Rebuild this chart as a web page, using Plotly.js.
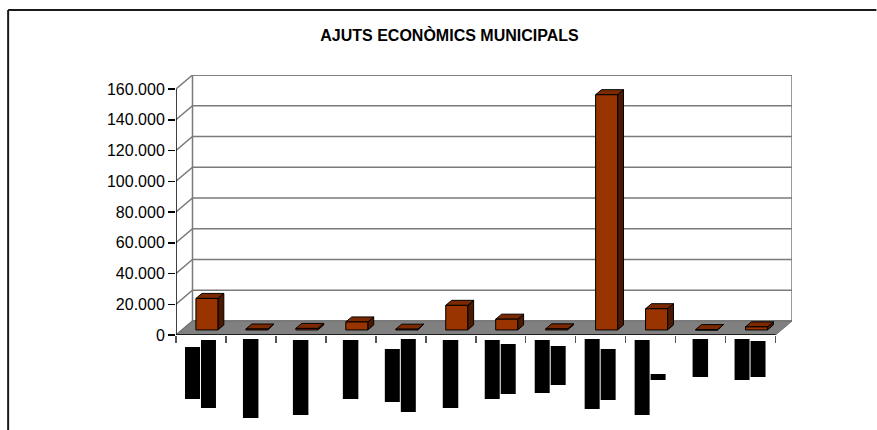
<!DOCTYPE html>
<html><head><meta charset="utf-8">
<script src="https://cdn.plot.ly/plotly-3.0.1.min.js"></script>
<style>html,body{margin:0;padding:0;background:#fff}#chart{width:877px;height:430px}</style>
</head><body><div id="chart"></div>
<script>
// ---- data ----
const categories = ['1','2','3','4','5','6','7','8','9','10','11','12'];
const values = [20500, 600, 1000, 5200, 500, 16000, 7000, 700, 153000, 13800, 200, 2000];
const yTicks = [0, 20000, 40000, 60000, 80000, 100000, 120000, 140000, 160000];
const chartTitle = 'AJUTS ECONÒMICS MUNICIPALS';
// redacted (black) category label blocks: [category index, column, top px, bottom px]
const labelBlocks = [
  [0,'L',347,399],[0,'R',340,408],
  [1,'C',339,418],
  [2,'C',340,415],
  [3,'C',340,399],
  [4,'L',349,402],[4,'R',339,412],
  [5,'C',340,408],
  [6,'L',340,399],[6,'R',344,394],
  [7,'L',340,393],[7,'R',346,385],
  [8,'L',339,409],[8,'R',349,400],
  [9,'L',340,415],[9,'R',374,380],
  [10,'C',339,377],
  [11,'L',339,380],[11,'R',341,377]
];

// ---- geometry ----
const W = 877, H = 430;
const L = 176, B = 335;           // front-left origin in px
const catPx = 50;                 // px per category
const k = 1.5375 / 1000;          // px per value unit
const n = categories.length;
const dX = 16.5 / catPx;          // depth offset (category units)
const dY = 14 / k;                // depth offset (value units)
const f0 = 0.36, f1 = 0.72, bw = 0.44;
const xMin = -0.5, xEnd = n - 0.5;
const yTopTick = yTicks[yTicks.length - 1];
const yMax = yTopTick + dY;
const plotW = (xEnd + dX - xMin) * catPx;
const plotH = yMax * k;
const mT = B - plotH, mL = L, mR = W - L - plotW, mB = H - B;
const px2x = p => (p - L) / plotW;
const py2y = p => (B - p) / plotH;

const traces = [];
const seg = (xs, ys, color, width) => traces.push({
  x: xs, y: ys, mode: 'lines', line: {color: color, width: width},
  hoverinfo: 'skip', showlegend: false
});
const poly = (xs, ys, fill, lineColor, width) => traces.push({
  x: xs, y: ys, mode: 'lines', fill: 'toself', fillcolor: fill,
  line: {color: lineColor, width: width}, hoverinfo: 'skip', showlegend: false
});

// back wall
poly([xMin+dX, xEnd+dX, xEnd+dX, xMin+dX, xMin+dX],
     [dY, dY, yMax, yMax, dY], '#ffffff', '#7a7a7a', 1.5);
// gridlines on back wall + left wall diagonals
{
  const gx = [], gy = [];
  yTicks.forEach(v => {
    gx.push(xMin, xMin+dX, xEnd+dX, null);
    gy.push(v, v+dY, v+dY, null);
  });
  seg(gx, gy, '#7a7a7a', 1.5);
}
// floor
poly([xMin, xEnd, xEnd+dX, xMin+dX, xMin], [0, 0, dY, dY, 0], '#808080', '#707070', 1);

// bars
{
  const fx=[], fy=[], tx=[], ty=[], sx=[], sy=[];
  const ddx = (f1-f0)*dX, ddy = (f1-f0)*dY;
  values.forEach((v, i) => {
    const c = i + f0*dX, yb = f0*dY, yt = yb + v;
    const x0 = c - bw/2, x1 = c + bw/2;
    fx.push(x0, x1, x1, x0, x0, null); fy.push(yb, yb, yt, yt, yb, null);
    tx.push(x0, x1, x1+ddx, x0+ddx, x0, null); ty.push(yt, yt, yt+ddy, yt+ddy, yt, null);
    sx.push(x1, x1+ddx, x1+ddx, x1, x1, null); sy.push(yb, yb+ddy, yt+ddy, yt, yb, null);
  });
  poly(sx, sy, '#4c1900', '#000000', 1);
  poly(tx, ty, '#7a2900', '#000000', 1);
  poly(fx, fy, '#993300', '#000000', 1);
}
// front floor edge and value axis line
seg([xMin, xEnd], [0, 0], '#000000', 1.5);
seg([xMin, xMin], [0, yTopTick], '#000000', 1.5);

// shapes: outer frame and redacted label blocks
const shapes = [
  {type:'line', xref:'paper', yref:'paper', x0:px2x(8), x1:px2x(W), y0:py2y(10), y1:py2y(10), line:{color:'#1a1a1a', width:2}},
  {type:'line', xref:'paper', yref:'paper', x0:px2x(8), x1:px2x(8), y0:py2y(10), y1:py2y(H), line:{color:'#1a1a1a', width:2}}
];
const colOff = {L:[-16,-1], R:[0,15], C:[-8,7.5]};
labelBlocks.forEach(([i, col, t, b]) => {
  const o = colOff[col];
  shapes.push({type:'rect', xref:'x', yref:'paper',
    x0: i + o[0]/catPx, x1: i + o[1]/catPx, y0: py2y(b), y1: py2y(t),
    fillcolor:'#000000', line:{width:0}, layer:'above'});
});

const font = 'Liberation Sans, Arial, sans-serif';
const layout = {
  width: W, height: H,
  margin: {l: mL, r: mR, t: mT, b: mB, pad: 0},
  paper_bgcolor: '#ffffff', plot_bgcolor: 'rgba(0,0,0,0)',
  separators: ',.',
  showlegend: false,
  title: {text: chartTitle, font: {family: font, size: 16, color: '#000', weight: 'bold'},
          xref: 'container', yref: 'container', x: 449.5/W, xanchor: 'center',
          y: 1 - 35/H, yanchor: 'middle'},
  xaxis: {range: [xMin, xEnd + dX], showgrid: false, zeroline: false, showline: false,
          tickmode: 'array', tickvals: Array.from({length: n+1}, (_, j) => j - 0.5),
          ticks: 'outside', ticklen: 7, tickwidth: 1.5, tickcolor: '#555555',
          showticklabels: false, fixedrange: true},
  yaxis: {range: [0, yMax], showgrid: false, zeroline: false, showline: false,
          tickmode: 'array', tickvals: yTicks, tickformat: ',d',
          ticks: 'outside', ticklen: 7, tickwidth: 1.5, tickcolor: '#000000',
          tickfont: {family: font, size: 16, color: '#000'}, fixedrange: true},
  shapes: shapes
};
Plotly.newPlot('chart', traces, layout, {staticPlot: true, displayModeBar: false});
</script>
</body></html>
